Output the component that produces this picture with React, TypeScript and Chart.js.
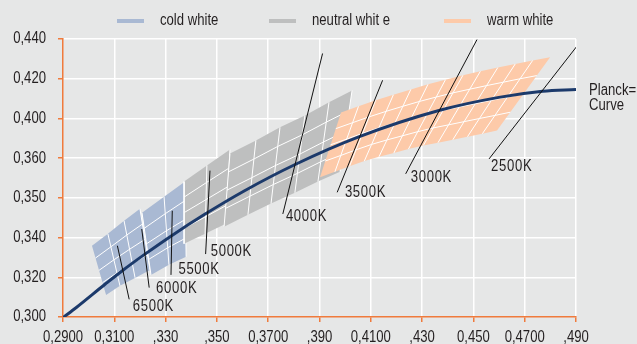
import React, { useEffect, useRef } from "react";
import { Chart, registerables } from "chart.js";

Chart.register(...registerables);

// ---------- axes ----------
const xTickValues = [0.29, 0.31, 0.33, 0.35, 0.37, 0.39, 0.41, 0.43, 0.45, 0.47, 0.49];
const xTickLabels = ["0,2900", "0,3100", ",330", ",350", "0,3700", ",390", "0,4100", ",430", "0,450", "0,4700", ",490"];
const yTickValues = [0.3, 0.32, 0.34, 0.36, 0.38, 0.4, 0.42, 0.44];
const yTickLabels = ["0,300", "0,320", "0,340", "0,350", "0,360", "0,400", "0,420", "0,440"];

// ---------- legend ----------
const legendLabels = ["cold white", "neutral whit e", "warm white"];

// ---------- Planck curve ----------
const planckX = [0.29, 0.2952, 0.3065, 0.3135, 0.3221, 0.3325, 0.3451, 0.3608, 0.3805, 0.4053, 0.4369, 0.4599, 0.477, 0.49];
const planckY = [0.2997, 0.3048, 0.3166, 0.3237, 0.3318, 0.3411, 0.3516, 0.3636, 0.3768, 0.3907, 0.4041, 0.4106, 0.4137, 0.4146];
const planckLabel = ["Planck=", "Curve"];
const planckLabelX = 0.4951;
const planckLabelY = 0.4141;

// ---------- colour bins: column lines [topX, topY, bottomX, bottomY] ----------
const coldBlock1 = [
  [0.3013, 0.3359, 0.3068, 0.3111],
  [0.3075, 0.3419, 0.3122, 0.3157],
  [0.3138, 0.3485, 0.3181, 0.3197],
  [0.32, 0.3545, 0.3239, 0.3237],
];
const coldBlock2 = [
  [0.3208, 0.3525, 0.3243, 0.3212],
  [0.3294, 0.3606, 0.3313, 0.3263],
  [0.3376, 0.3682, 0.338, 0.3303],
];
const neutralBlock1 = [
  [0.3372, 0.3682, 0.3372, 0.3369],
  [0.3461, 0.3763, 0.3454, 0.3419],
  [0.3551, 0.3843, 0.3535, 0.347],
];
const neutralBlock2 = [
  [0.3551, 0.3823, 0.3528, 0.3455],
  [0.3652, 0.3889, 0.3621, 0.3515],
  [0.3746, 0.3955, 0.3711, 0.3571],
  [0.3843, 0.4015, 0.3804, 0.3626],
  [0.3937, 0.4081, 0.3894, 0.3682],
  [0.4027, 0.4141, 0.398, 0.3732],
];
const warmBlock = [
  [0.3984, 0.403, 0.3902, 0.3704],
  [0.4052, 0.4061, 0.396, 0.3731],
  [0.4119, 0.4091, 0.4017, 0.3759],
  [0.4188, 0.4119, 0.4075, 0.3786],
  [0.4256, 0.4146, 0.4132, 0.3807],
  [0.4323, 0.4172, 0.419, 0.3826],
  [0.4391, 0.4195, 0.4247, 0.3846],
  [0.4459, 0.4217, 0.4305, 0.3864],
  [0.4527, 0.4237, 0.4362, 0.3878],
  [0.4595, 0.4256, 0.442, 0.3893],
  [0.4663, 0.4274, 0.4477, 0.3908],
  [0.4731, 0.4292, 0.4535, 0.3923],
  [0.4799, 0.4308, 0.4592, 0.3939],
];

// ---------- CCT pointers ----------
const cctLabels = ["6500K", "6000K", "5500K", "5000K", "4000K", "3500K", "3000K", "2500K"];
const cctTopX = [0.3112, 0.3207, 0.3326, 0.3473, 0.3912, 0.4146, 0.4514, 0.4902];
const cctTopY = [0.3359, 0.3443, 0.3535, 0.3737, 0.4327, 0.4192, 0.4397, 0.4361];
const cctBottomX = [0.3158, 0.3236, 0.3321, 0.3456, 0.3757, 0.3969, 0.4236, 0.4561];
const cctBottomY = [0.3089, 0.3148, 0.3212, 0.3317, 0.3519, 0.3628, 0.3721, 0.3796];
const cctLabelX = [0.3172, 0.3263, 0.335, 0.3476, 0.3769, 0.3999, 0.4256, 0.4569];
const cctLabelY = [0.3051, 0.3144, 0.3237, 0.3328, 0.3505, 0.3624, 0.37, 0.3758];

// ---------- styles ----------
const BG = "#e6e7e7";
const COLD = "#a9b9d3";
const NEUTRAL = "#bebfbf";
const WARM = "#fdcaa9";
const CURVE = "#1c3a6b";
const AXIS = "#f07b3c";
const TEXT = "#231f20";
const FONT = "'Liberation Sans', Arial, sans-serif";
const NARROW = 0.82;

function narrowText(ctx: CanvasRenderingContext2D, text: string, x: number, y: number, align: CanvasTextAlign, size: number, spacing = 0) {
  ctx.save();
  ctx.translate(x, y);
  ctx.scale(NARROW, 1);
  ctx.font = `${size}px ${FONT}`;
  ctx.textAlign = align;
  ctx.textBaseline = "middle";
  (ctx as any).letterSpacing = `${spacing}px`;
  ctx.fillText(text, 0, 0);
  ctx.restore();
}

function buildDatasets() {
  const ds: any[] = [];
  let seq = 0;
  const add = (d: any) => {
    ds.push({ pointRadius: 0, pointHoverRadius: 0, tension: 0, fill: false, ...d, order: 10000 - seq++ });
  };
  const blocks = [
    { cols: coldBlock1, color: COLD, drawFirst: false, drawLast: true },
    { cols: coldBlock2, color: COLD, drawFirst: true, drawLast: true },
    { cols: neutralBlock1, color: NEUTRAL, drawFirst: true, drawLast: true },
    { cols: neutralBlock2, color: NEUTRAL, drawFirst: true, drawLast: true },
    { cols: warmBlock, color: WARM, drawFirst: false, drawLast: false },
  ];
  for (const b of blocks) {
    const tops = b.cols.map((c) => ({ x: c[0], y: c[1] }));
    const bots = b.cols.map((c) => ({ x: c[2], y: c[3] })).reverse();
    add({ data: [...tops, ...bots], fill: "shape", backgroundColor: b.color, borderColor: "rgba(0,0,0,0)", borderWidth: 0 });
    for (const f of [0.25, 0.5, 0.75]) {
      add({
        data: b.cols.map((c) => ({ x: c[0] + (c[2] - c[0]) * f, y: c[1] + (c[3] - c[1]) * f })),
        borderColor: "#ffffff",
        borderWidth: 1,
      });
    }
    b.cols.forEach((c, i) => {
      if (i === 0 && !b.drawFirst) return;
      if (i === b.cols.length - 1 && !b.drawLast) return;
      add({ data: [{ x: c[0], y: c[1] }, { x: c[2], y: c[3] }], borderColor: "#ffffff", borderWidth: 1 });
    });
  }
  add({
    data: planckX.map((x, i) => ({ x, y: planckY[i] })),
    borderColor: CURVE,
    borderWidth: 3,
    cubicInterpolationMode: "monotone",
  });
  cctLabels.forEach((_, i) => {
    add({
      data: [{ x: cctTopX[i], y: cctTopY[i] }, { x: cctBottomX[i], y: cctBottomY[i] }],
      borderColor: "#111111",
      borderWidth: 1,
    });
  });
  return ds;
}

const annotate = {
  id: "annotate",
  afterDraw(chart: any) {
    const { ctx, scales, chartArea } = chart;
    const xs = scales.x;
    const ys = scales.y;
    ctx.save();
    ctx.fillStyle = TEXT;
    // tick labels
    xTickValues.forEach((v, i) => narrowText(ctx, xTickLabels[i], xs.getPixelForValue(v), chartArea.bottom + 21, "center", 16));
    yTickValues.forEach((v, i) => narrowText(ctx, yTickLabels[i], chartArea.left - 17, ys.getPixelForValue(v), "right", 16));
    // CCT labels
    cctLabels.forEach((t, i) => {
      narrowText(ctx, t, xs.getPixelForValue(cctLabelX[i]), ys.getPixelForValue(cctLabelY[i]), "left", 16, 0.8);
    });
    // Planck label
    const px = xs.getPixelForValue(planckLabelX);
    const py = ys.getPixelForValue(planckLabelY);
    planckLabel.forEach((t, i) => narrowText(ctx, t, px, py + i * 15.5, "left", 16));
    // legend
    const legendColors = [COLD, NEUTRAL, WARM];
    const starts = [117, 269, 444];
    legendLabels.forEach((t, i) => {
      ctx.strokeStyle = legendColors[i];
      ctx.lineWidth = 4;
      ctx.beginPath();
      ctx.moveTo(starts[i], 21);
      ctx.lineTo(starts[i] + 27, 21);
      ctx.stroke();
      narrowText(ctx, t, starts[i] + 43, 21, "left", 16);
    });
    ctx.restore();
  },
};

export default function App() {
  const ref = useRef<HTMLCanvasElement>(null);
  useEffect(() => {
    if (!ref.current) return;
    const gridColor = (c: any) => (c.index === 0 ? "rgba(0,0,0,0)" : "#ffffff");
    const chart = new Chart(ref.current, {
      type: "line",
      data: { datasets: buildDatasets() },
      options: {
        responsive: false,
        devicePixelRatio: 1,
        animation: false,
        events: [],
        layout: { padding: { top: 39, right: 61, left: 0, bottom: 0 } },
        plugins: { legend: { display: false }, tooltip: { enabled: false } },
        scales: {
          x: {
            type: "linear",
            min: 0.29,
            max: 0.49,
            afterBuildTicks: (s: any) => {
              s.ticks = xTickValues.map((v) => ({ value: v }));
            },
            afterFit: (s: any) => {
              s.height = 27;
            },
            grid: { color: gridColor, lineWidth: 1.5, tickColor: AXIS, tickLength: 5, tickWidth: 1.5 },
            border: { color: AXIS, width: 1.5 },
            ticks: { display: false, autoSkip: false },
          },
          y: {
            type: "linear",
            min: 0.3,
            max: 0.44,
            afterBuildTicks: (s: any) => {
              s.ticks = yTickValues.map((v) => ({ value: v }));
            },
            afterFit: (s: any) => {
              s.width = 63;
            },
            grid: { color: gridColor, lineWidth: 1.5, tickColor: AXIS, tickLength: 5, tickWidth: 1.5 },
            border: { color: AXIS, width: 1.5 },
            ticks: { display: false, autoSkip: false },
          },
        },
      },
      plugins: [annotate],
    } as any);
    return () => chart.destroy();
  }, []);
  return (
    <div style={{ position: "fixed", left: 0, top: 0, width: 637, height: 344, background: BG }}>
      <canvas ref={ref} width={637} height={344} style={{ display: "block", width: 637, height: 344 }} />
    </div>
  );
}
